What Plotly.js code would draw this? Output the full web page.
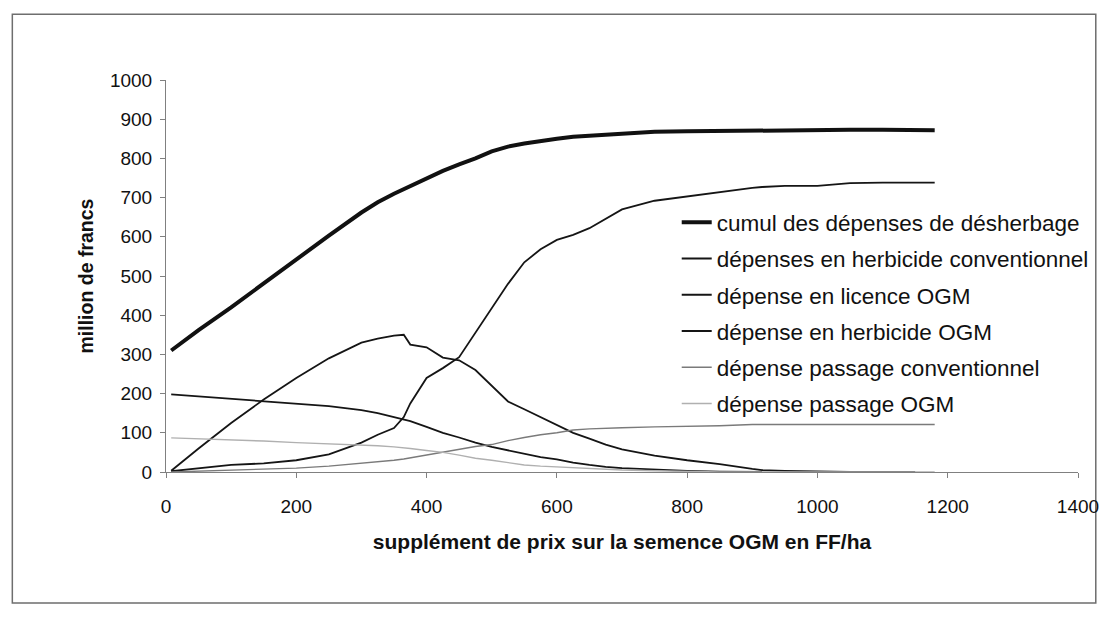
<!DOCTYPE html>
<html>
<head>
<meta charset="utf-8">
<script src="https://cdn.plot.ly/plotly-3.0.1.min.js"></script>
<style>html,body{margin:0;padding:0;background:#fff;}#chart{width:1106px;height:620px;}</style>
</head>
<body>
<div id="chart"></div>
<script>
// Supplément de prix sur la semence OGM (FF/ha)
const prix = [8, 50, 100, 150, 200, 250, 300, 325, 350, 365, 375, 400, 425, 450, 475, 500, 525, 550, 575, 600, 625, 650, 675, 700, 750, 800, 850, 900, 915, 950, 1000, 1050, 1100, 1150, 1180];

// Dépenses (million de francs)
const cumul = [310, 362, 420, 482, 543, 603, 662, 688, 710, 722, 730, 750, 768, 785, 800, 818, 830, 838, 845, 850, 855, 858, 861, 863, 868, 869, 870, 870, 870, 873, 873, 873, 873, 873, 872];
const herbicideConv = [2, 10, 18, 22, 30, 45, 75, 95, 112, 140, 175, 240, 265, 293, 355, 420, 480, 535, 568, 592, 605, 622, 645, 670, 692, 703, 715, 725, 727, 730, 730, 737, 738, 738, 738];
const licenceOGM = [3, 60, 125, 185, 240, 290, 330, 340, 348, 350, 325, 318, 292, 285, 260, 220, 180, 160, 140, 122, 100, 85, 70, 58, 42, 30, 20, 8, 5, 3, 1, 0, 0, 0, null];
const herbicideOGM = [198, 193, 186, 180, 175, 168, 158, 150, 140, 135, 130, 115, 100, 88, 75, 64, 55, 46, 38, 32, 24, 18, 13, 10, 6, 3, 1, 0, 0, null, null, null, null, null, null];
const passageConv = [0, 2, 4, 7, 10, 15, 22, 26, 30, 33, 36, 43, 50, 58, 65, 70, 80, 88, 95, 100, 107, 110, 112, 113, 115, 116, 118, 121, 121, 121, 121, 121, 121, 121, 121];
const passageOGM = [87, 85, 82, 79, 75, 72, 69, 67, 64, 62, 60, 55, 50, 43, 35, 30, 24, 18, 15, 13, 11, 9, 7, 5, 3, 1, 0, 0, 0, 0, 0, 0, 0, 0, 0];

const noms = [
  "cumul des dépenses de désherbage",
  "dépenses en herbicide conventionnel",
  "dépense en licence OGM",
  "dépense en herbicide OGM",
  "dépense passage conventionnel",
  "dépense passage OGM"
];
const series = [cumul, herbicideConv, licenceOGM, herbicideOGM, passageConv, passageOGM];
const couleurs = ["#111111", "#151515", "#151515", "#151515", "#7a7a7a", "#b0b0b0"];
const epaisseurs = [4, 1.8, 1.8, 1.8, 1.4, 1.4];

const traces = series.map((y, i) => ({
  x: prix,
  y: y,
  type: "scatter",
  mode: "lines",
  name: noms[i],
  legendgroup: "g" + i,
  line: { color: couleurs[i], width: epaisseurs[i] },
  connectgaps: false,
  hoverinfo: "skip"
}));

const font = "Liberation Sans, Arial, sans-serif";

const layout = {
  width: 1106,
  height: 620,
  paper_bgcolor: "#ffffff",
  plot_bgcolor: "#ffffff",
  margin: { l: 166, r: 26, t: 80, b: 148 },
  showlegend: true,
  legend: {
    x: 0.56, y: 0.691, xanchor: "left", yanchor: "top",
    bgcolor: "rgba(0,0,0,0)",
    font: { family: font, size: 22.5, color: "#111" },
    tracegroupgap: 4,
    itemwidth: 30
  },
  xaxis: {
    range: [0, 1400],
    dtick: 200,
    tick0: 0,
    showgrid: false,
    zeroline: false,
    showline: true,
    linecolor: "#808080",
    linewidth: 1,
    ticks: "outside",
    ticklen: 5,
    tickcolor: "#808080",
    ticklabelstandoff: 12,
    tickfont: { family: font, size: 19, color: "#111" },
    title: { text: "supplément de prix sur la semence OGM en FF/ha", font: { family: font, size: 21, color: "#111", weight: "bold" }, standoff: 18 }
  },
  yaxis: {
    range: [0, 1000],
    dtick: 100,
    tick0: 0,
    showgrid: false,
    zeroline: false,
    showline: true,
    linecolor: "#808080",
    linewidth: 1,
    ticks: "outside",
    ticklen: 5,
    tickcolor: "#808080",
    ticklabelstandoff: 4,
    tickfont: { family: font, size: 19, color: "#111" },
    title: { text: "million de francs", font: { family: font, size: 19.5, color: "#111", weight: "bold" }, standoff: 11 }
  },
  shapes: [{
    type: "rect", xref: "paper", yref: "paper",
    x0: -0.1685, x1: 1.0195, y0: -0.334, y1: 1.168,
    line: { color: "#6e6e6e", width: 1.5 }, fillcolor: "rgba(0,0,0,0)", layer: "below"
  }]
};

Plotly.newPlot("chart", traces, layout, { staticPlot: true, displayModeBar: false });
</script>
</body>
</html>
